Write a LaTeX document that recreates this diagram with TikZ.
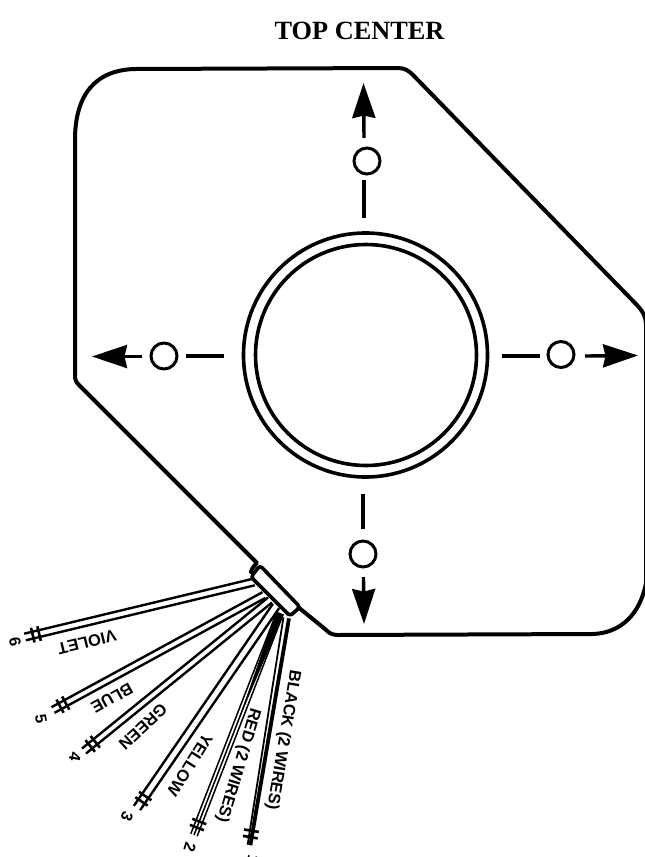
\documentclass[tikz,border=0pt]{standalone}
\usepackage{fontspec}
\setmainfont{Liberation Serif}
\setsansfont{Liberation Sans}
\usetikzlibrary{calc,arrows.meta}
\tikzset{
  plate/.style={line width=4pt,line join=round,line cap=round},
  ringline/.style={line width=3.6pt},
  hole/.style={circle,draw,line width=3pt,minimum size=26pt,inner sep=0pt},
  tickline/.style={line width=3.4pt},
  bigarrow/.style={line width=3.4pt,-{Stealth[length=35pt,width=23pt,inset=2.5pt]}},
  wireline/.style={line width=2.4pt},
  crossmark/.style={line width=2.6pt},
  block/.style={line width=3.6pt,fill=white,rounded corners=3pt,line join=round},
  wlabel/.style={font=\sffamily\bfseries\fontsize{16.5}{17}\selectfont,inner sep=0pt},
  wnum/.style={font=\sffamily\bfseries\fontsize{16}{17}\selectfont,inner sep=0pt},
  heading/.style={font=\rmfamily\bfseries\fontsize{26.3}{28}\selectfont,inner sep=0pt}
}
\begin{document}
\begin{tikzpicture}[x=1pt,y=-1pt]
\useasboundingbox (0,0) rectangle (645,857);
\clip (0,0) rectangle (645,857);
\node[heading] (title) at (359.5,31) {TOP CENTER};

% plate outline
\draw[plate] (251,572) .. controls (252,568) and (254,566) .. (257,563) -- (79,385) .. controls (76,382) and (75,380) .. (75,375)
  -- (75,140) .. controls (75,95) and (95,70) .. (135,69)
  -- (398,68) .. controls (405,68) and (409,71) .. (413,75)
  -- (635,303) .. controls (642,310) and (646,316) .. (646,325)
  -- (646,583) .. controls (640,615) and (620,633) .. (593,634)
  -- (338,635) .. controls (332,635) and (329,633) .. (325,629) -- (298,607);

% centre rings
\node[circle,draw,ringline,minimum size=244pt,inner sep=0pt] (outerring) at (365.5,355) {};
\node[circle,draw,ringline,minimum size=221pt,inner sep=0pt] (innerring) at (366,355) {};

% holes
\node[hole] (htop) at (367,161) {};
\node[hole] (hleft) at (164,356) {};
\node[hole] (hright) at (561,354.5) {};
\node[hole] (hbottom) at (363,554) {};

% ticks between ring and holes
\coordinate (t1a) at (364,180); \coordinate (t1b) at (364,218);
\coordinate (t2a) at (186,356); \coordinate (t2b) at (224,356);
\coordinate (t3a) at (502,356); \coordinate (t3b) at (540,356);
\coordinate (t4a) at (363,494); \coordinate (t4b) at (363,529);
\draw[tickline] (t1a) -- (t1b);
\draw[tickline] (t2a) -- (t2b);
\draw[tickline] (t3a) -- (t3b);
\draw[tickline] (t4a) -- (t4b);

% outward arrows
\coordinate (a1a) at (364,138); \coordinate (a1b) at (363.5,83);
\coordinate (a2a) at (142,356.5); \coordinate (a2b) at (92,356.5);
\coordinate (a3a) at (585,356); \coordinate (a3b) at (638,355.5);
\coordinate (a4a) at (363.5,577); \coordinate (a4b) at (364,624);
\draw[bigarrow] (a1a) -- (a1b);
\draw[bigarrow] (a2a) -- (a2b);
\draw[bigarrow] (a3a) -- (a3b);
\draw[bigarrow] (a4a) -- (a4b);

% wire bundles: start, tip
\coordinate (w6s) at (254,582); \coordinate (w6e) at (25,637);
\coordinate (w5s) at (264,595); \coordinate (w5e) at (53,710);
\coordinate (w4s) at (270,600); \coordinate (w4e) at (84,751);
\coordinate (w3s) at (276,606); \coordinate (w3e) at (137,808);
\coordinate (w2s) at (280,613); \coordinate (w2e) at (194,835);
\coordinate (w1s) at (287,618); \coordinate (w1e) at (249,845);

\foreach \n/\d in {6/3.4,5/3.2,4/3.2,3/3.8}{
  \draw[wireline] ($(w\n s)!\d pt!90:(w\n e)$) -- ($(w\n e)!\d pt!-90:(w\n s)$);
  \draw[wireline] ($(w\n s)!\d pt!-90:(w\n e)$) -- ($(w\n e)!\d pt!90:(w\n s)$);
}
% red: three close lines, merged near the block
\draw[line width=1.5pt] (w2s) -- (w2e);
\draw[line width=1.5pt] ($(w2s)!3.4pt!90:(w2e)$) -- ($(w2e)!3.4pt!-90:(w2s)$);
\draw[line width=1.5pt] ($(w2s)!3.4pt!-90:(w2e)$) -- ($(w2e)!3.4pt!90:(w2s)$);
\coordinate (w2m) at ($(w2s)!0.5!(w2e)$);
\fill ($(w2s)!4pt!90:(w2e)$) -- ($(w2s)!4pt!-90:(w2e)$) -- (w2m) -- cycle;
% black: one thick, one thin
\draw[line width=3.8pt] ($(w1s)!2pt!90:(w1e)$) -- ($(w1e)!1.4pt!-90:(w1s)$);
\draw[line width=1.8pt] ($(w1s)!3.6pt!-90:(w1e)$) -- ($(w1e)!1.4pt!90:(w1s)$);

% cross marks near each tip
\foreach \n in {6,5,4,3,2,1}{
  \coordinate (c1) at ($(w\n e)!8pt!(w\n s)$);
  \coordinate (c2) at ($(w\n e)!14.5pt!(w\n s)$);
  \draw[crossmark] ($(c1)!7.5pt!90:(w\n s)$) -- ($(c1)!7.5pt!-90:(w\n s)$);
  \draw[crossmark] ($(c2)!7.5pt!90:(w\n s)$) -- ($(c2)!7.5pt!-90:(w\n s)$);
}

% connector block
\draw[block] (260,565.5) -- (300,607) -- (290,616) -- (251,577) -- cycle;

% labels
\node[wlabel,rotate=193.7] (lviolet) at (87,642) {VIOLET};
\node[wlabel,rotate=209] (lblue) at (112,698) {BLUE};
\node[wlabel,rotate=222.7] (lgreen) at (143,727) {GREEN};
\node[wlabel,rotate=237.8] (lyellow) at (190,765) {YELLOW};
\node[wlabel,rotate=253.3] (lred) at (238,765) {RED (2 WIRES)};
\node[wlabel,rotate=260.5] (lblack) at (283,740) {BLACK (2 WIRES)};
\node[wnum,rotate=280] (n6) at (15,642) {6};
\node[wnum,rotate=280] (n5) at (41,719) {5};
\node[wnum,rotate=260] (n4) at (75,757) {4};
\node[wnum,rotate=250] (n3) at (127,817) {3};
\node[wnum,rotate=253.3] (n2) at (190,847) {2};
\node[wnum,rotate=260.5] (n1) at (253,860) {1};
\end{tikzpicture}
\end{document}
